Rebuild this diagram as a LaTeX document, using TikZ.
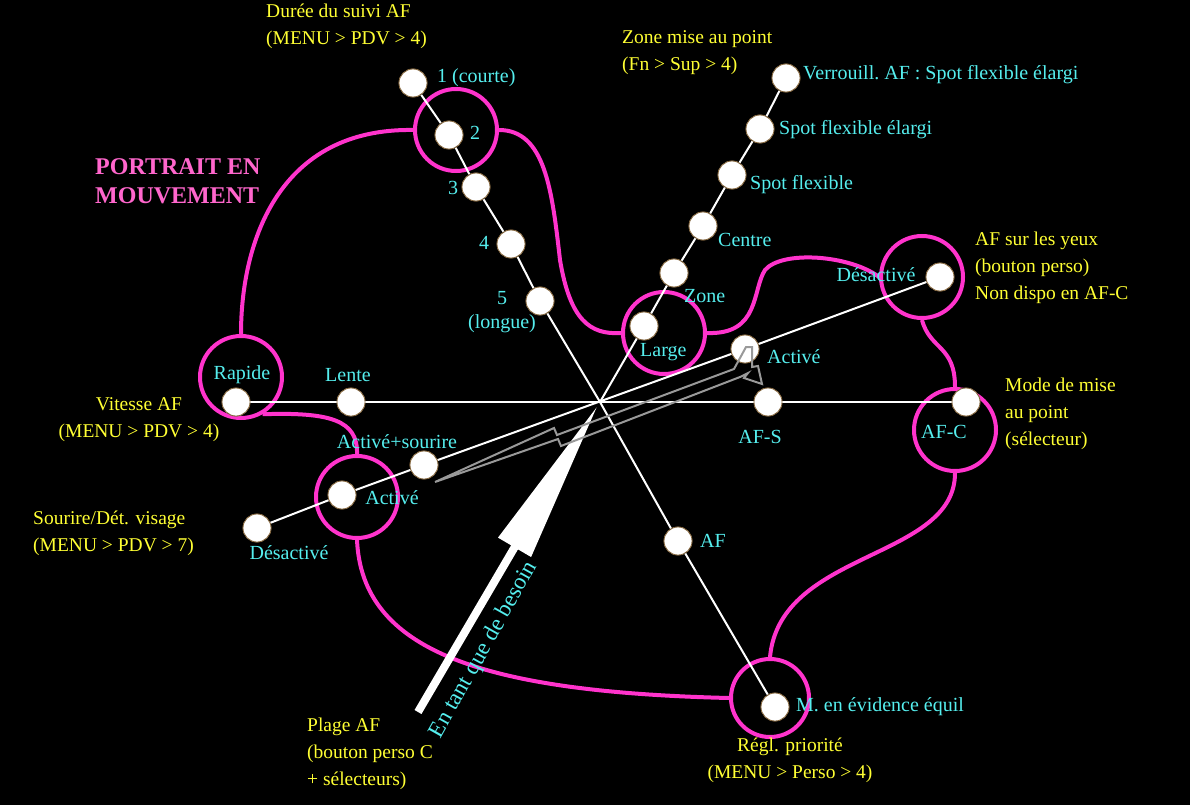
\documentclass[tikz,border=0pt]{standalone}
\usepackage{fontspec}
\setmainfont{Liberation Serif}
\usetikzlibrary{arrows.meta}
\definecolor{cy}{HTML}{55EEEE}
\definecolor{ye}{HTML}{FFFF33}
\definecolor{mg}{HTML}{FF33CC}
\definecolor{pk}{HTML}{FF66CC}
\begin{document}
\begin{tikzpicture}[x=1pt,y=-1pt,
  dot/.style={circle,fill=white,draw={rgb,255:red,130;green,100;blue,60},line width=0.8,minimum size=28,inner sep=0},
  ring/.style={circle,draw=mg,line width=4,minimum size=82,inner sep=0},
  lnk/.style={draw=mg,line width=4},
  ax/.style={draw=white,line width=2},
  cl/.style={text=cy,font=\fontsize{20}{24}\selectfont,inner sep=0},
  yl/.style={text=ye,font=\fontsize{19.5}{27}\selectfont,inner sep=0,align=left}]
\fill[black] (0,0) rectangle (1190,805);
\useasboundingbox (0,0) rectangle (1190,805);
\coordinate (O) at (600,402);
% magenta rings
\node[ring] (r2) at (456,130) {};
\node[ring] (rL) at (664,333) {};
\node[ring] (rR) at (241,377) {};
\node[ring] (rA) at (357,497) {};
\node[ring] (rE) at (922,277) {};
\node[ring] (rC) at (955,430) {};
\node[ring,minimum size=78] (rM) at (770,698) {};
% magenta links
\draw[lnk] (rR.north) .. controls (241,240) and (280,128) .. (r2.west);
\draw[lnk] (r2.east) .. controls (545,130) and (552,190) .. (560,260) .. controls (570,320) and (590,335) .. (rL.west);
\draw[lnk] (rL.east) .. controls (760,335) and (752,290) .. (765,270) .. controls (782,250) and (850,255) .. (rE.west);
\draw[lnk] (rE.south) .. controls (930,350) and (955,345) .. (rC.north);
\draw[lnk] (rC.south) .. controls (955,560) and (780,550) .. (rM.north);
\draw[lnk] (rM.west) .. controls (480,692) and (362,650) .. (rA.south);
\draw[lnk] (rA.north) .. controls (358,420) and (330,412) .. (rR.-60);
% dots
\node[dot] (c1) at (413,83) {};
\node[dot] (c2) at (449,135) {};
\node[dot] (c3) at (476,187) {};
\node[dot] (c4) at (511,244) {};
\node[dot] (c5) at (540,301) {};
\node[dot] (cF) at (678,541) {};
\node[dot] (cM) at (775,707) {};
\node[dot] (v1) at (786,78) {};
\node[dot] (v2) at (760,129) {};
\node[dot] (v3) at (732,175) {};
\node[dot] (v4) at (703,226) {};
\node[dot] (v5) at (674,273) {};
\node[dot] (v6) at (644,326) {};
\node[dot] (h1) at (236,402) {};
\node[dot] (h2) at (351,402) {};
\node[dot] (h3) at (768,402) {};
\node[dot] (h4) at (966,402) {};
\node[dot] (s1) at (257,528) {};
\node[dot] (s2) at (342,495) {};
\node[dot] (s3) at (424,465) {};
\node[dot] (s5) at (745,349) {};
\node[dot] (s4) at (940,277) {};
% axes
\draw[ax] (c1) -- (c2) -- (c3) -- (c4) -- (c5) -- (O) -- (cF) -- (cM);
\draw[ax] (v1) -- (v2) -- (v3) -- (v4) -- (v5) -- (v6) -- (O);
\draw[ax] (h1) -- (h2) -- (h3) -- (h4);
\draw[ax] (s1) -- (s2) -- (s3) -- (s5) -- (s4);
\foreach \n in {c1,c2,c3,c4,c5,cF,cM,v1,v2,v3,v4,v5,v6,h1,h2,h3,h4,s1,s2,s3,s5,s4}
  \node[dot] at (\n) {};
% big arrow
\coordinate (bs) at (418,712);
\coordinate (bt) at (598,405);
\draw[white,line width=8,-{Triangle[length=165,width=36]}] (bs) -- (bt);
% gray arrow
\draw[gray!80,line width=2,line join=miter] (435,482) -- (554,428) -- (557,435) -- (734,369) -- (746,347) -- (752,347) -- (752,367) -- (758,366) -- (762,384) -- (744,378) -- (748,373) -- (740,377) -- (561,446) -- (558,439) -- cycle;
% cyan labels
\node[cl,anchor=west] (l1) at (437,78) {1 (courte)};
\node[cl,anchor=west] (l2) at (470,133) {2};
\node[cl] (l3) at (453,188) {3};
\node[cl] (l4) at (484,243) {4};
\node[cl,align=center] (l5) at (502,312) {5\\(longue)};
\node[cl,anchor=west] (lv1) at (803,75) {Verrouill.\ AF~:\ Spot flexible élargi};
\node[cl,anchor=west] (lv2) at (779,130) {Spot flexible élargi};
\node[cl,anchor=west] (lv3) at (750,185) {Spot flexible};
\node[cl,anchor=west] (lv4) at (718,240) {Centre};
\node[cl,anchor=west] (lv5) at (684,296) {Zone};
\node[cl,anchor=west] (lv6) at (640,352) {Large};
\node[cl] (le1) at (876,275) {Désactivé};
\node[cl,anchor=west] (le2) at (767,357) {Activé};
\node[cl] (lh3) at (760,437) {AF-S};
\node[cl] (lh4) at (944,432) {AF-C};
\node[cl] (lh1) at (242,375) {Rapide};
\node[cl] (lh2) at (348,375) {Lente};
\node[cl] (ls3) at (397,442) {Activé+sourire};
\node[cl] (ls2) at (392,498) {Activé};
\node[cl] (ls1) at (289,553) {Désactivé};
\node[cl,anchor=west] (lF) at (700,541) {AF};
\node[cl,anchor=west] (lM) at (796,707) {M. en évidence équil};
\node[cl,font=\fontsize{23}{26}\selectfont,rotate=60.7] (lb) at (484,650) {En tant que de besoin};
% yellow labels
\node[yl,anchor=north west] (t1) at (266,4) {Durée du suivi AF\\(MENU > PDV > 4)};
\node[yl,anchor=north west] (t2) at (622,30) {Zone mise au point\\(Fn > Sup > 4)};
\node[yl,anchor=north west] (t3) at (975,232) {AF sur les yeux\\(bouton perso)\\Non dispo en AF-C};
\node[yl,anchor=north west] (t4) at (1005,378) {Mode de mise\\au point\\(sélecteur)};
\node[yl,align=center,anchor=north] (t5) at (139,397) {Vitesse AF\\(MENU > PDV > 4)};
\node[yl,anchor=north west] (t6) at (33,511) {Sourire/Dét. visage\\(MENU > PDV > 7)};
\node[yl,anchor=north west] (t7) at (307,718) {Plage AF\\(bouton perso C\\+ sélecteurs)};
\node[yl,align=center,anchor=north] (t8) at (790,738) {Régl. priorité\\(MENU > Perso > 4)};
\node[text=pk,font=\bfseries\fontsize{24}{29}\selectfont,align=left,anchor=north west,inner sep=0] (pt) at (95,158) {PORTRAIT EN\\MOUVEMENT};
\end{tikzpicture}
\end{document}
